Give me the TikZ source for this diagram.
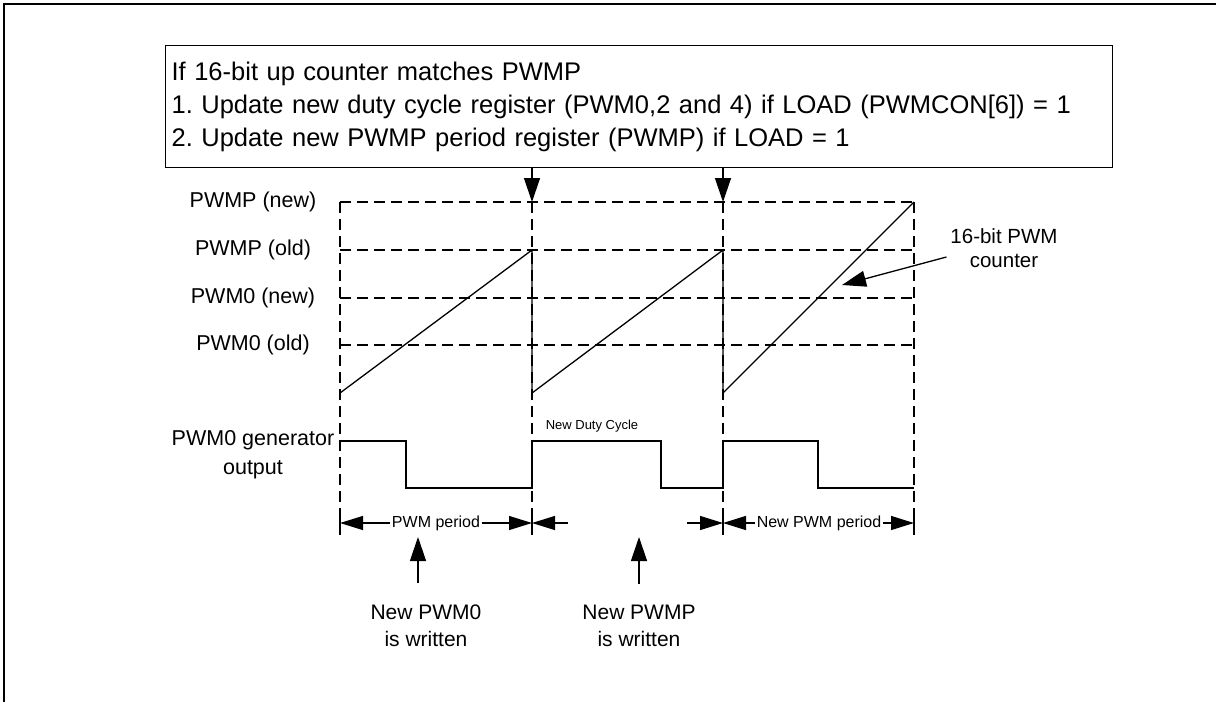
\documentclass[tikz,border=0pt]{standalone}
\usepackage{fontspec}
\setmainfont{Liberation Sans}
\usetikzlibrary{arrows.meta,positioning,calc}
\frenchspacing

\begin{document}
\begin{tikzpicture}[
  x=1pt, y=-1pt,
  line width=1.3pt,
  grid/.style={dash pattern=on 11pt off 6pt},
  tip/.style={-{Triangle[length=24pt, width=16pt]}},
  dimtip/.style={-{Triangle[length=23pt, width=14pt]}},
  lvl/.style={font=\fontsize{21.5}{24}\selectfont},
  note/.style={font=\fontsize{21}{27}\selectfont, align=center},
  dim/.style={font=\fontsize{16}{18}\selectfont, inner sep=1pt}
]
\useasboundingbox (0,0) rectangle (1216,702);
\draw[line width=2.5pt] (4,702) -- (4,4) -- (1216,4);

\node[draw, anchor=north west, minimum width=947pt, minimum height=122pt,
  text width=935pt, align=left, inner sep=6pt,
  font=\fontsize{25.5}{33}\selectfont] (cond) at (165,45)
  {If 16-bit up counter matches PWMP\\
   1. Update new duty cycle register (PWM0,2 and 4) if LOAD (PWMCON[6]) = 1\\
   2. Update new PWMP period register (PWMP) if LOAD = 1};

\coordinate (c1) at (340,0);
\coordinate (c2) at (532,0);
\coordinate (c3) at (723,0);
\coordinate (c4) at (914,0);
\coordinate (bot) at (0,393);
\coordinate (base) at (0,535);

\node[lvl] (pnew) at (253,202) {PWMP (new)};
\node[lvl] (pold) at (253,250) {PWMP (old)};
\node[lvl] (wnew) at (253,298) {PWM0 (new)};
\node[lvl] (wold) at (253,345) {PWM0 (old)};

\foreach \l in {pnew,pold,wnew,wold}
  \draw[grid] (\l -| c1) -- (\l -| c4);
\foreach \c in {c1,c2,c3,c4}
  \draw[grid] (\c |- pnew) -- (\c |- base);

\draw[tip] (cond.south -| c2) -- (c2 |- pnew);
\draw[tip] (cond.south -| c3) -- (c3 |- pnew);

\draw (c1 |- bot) -- (c2 |- pold) -- (c2 |- bot) -- (c3 |- pold) -- (c3 |- bot) -- (c4 |- pnew);

\node[note, font=\fontsize{21.5}{29}\selectfont] (gen) at (253,455) {PWM0 generator\\output};
\draw (340,441) -- (406,441) -- (406,488) -- (532,488) -- (532,441) -- (661,441) -- (661,488)
  -- (723,488) -- (723,441) -- (818,441) -- (818,488) -- (914,488);
\node[font=\fontsize{13}{15}\selectfont] (duty) at (592,426) {New Duty Cycle};

\node[font=\fontsize{20.5}{24}\selectfont, align=center] (cnt) at (1004,248) {16-bit PWM\\counter};
\coordinate (cnttip) at (842,285);
\draw[tip] ([yshift=-9pt]cnt.west) -- (cnttip);

\node[dim] (per1) at (436,523) {PWM period};
\node[dim] (per3) at (819,523) {New PWM period};
\coordinate (gapl) at (568,523);
\coordinate (gapr) at (687,523);
\draw[dimtip] (per1.west) -- (c1 |- per1);
\draw[dimtip] (per1.east) -- (c2 |- per1);
\draw[dimtip] (gapl) -- (c2 |- gapl);
\draw[dimtip] (gapr) -- (c3 |- gapr);
\draw[dimtip] (per3.west) -- (c3 |- per3);
\draw[dimtip] (per3.east) -- (c4 |- per3);
\foreach \c in {c1,c2,c3,c4}
  \draw (\c |- per1) ++(0,-12) -- ++(0,24);

\node[note] (wr0) at (426,626) {New PWM0\\is written};
\node[note] (wrp) at (639,626) {New PWMP\\is written};
\coordinate (w0top) at (418,537);
\coordinate (w0bot) at (418,583);
\draw[tip] (w0bot) -- (w0top);
\draw[tip] (wrp.north -| wrp) ++(0,-17) -- (wrp.north |- w0top);
\end{tikzpicture}
\end{document}
